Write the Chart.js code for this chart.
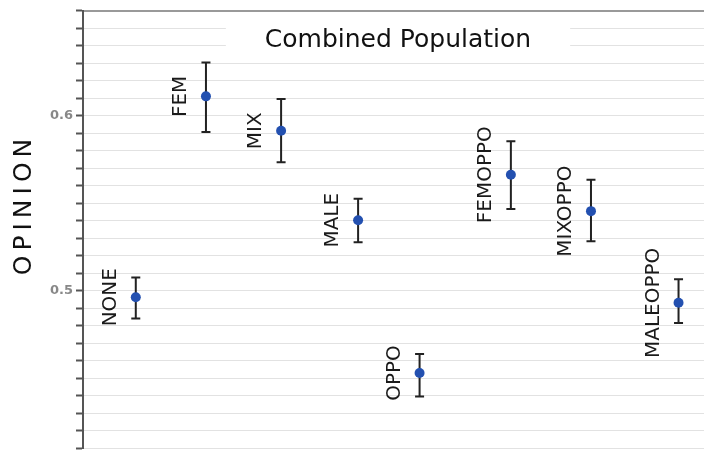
<!DOCTYPE html>
<html>
<head>
<meta charset="utf-8">
<script src="https://cdn.jsdelivr.net/npm/chart.js@4.4.1/dist/chart.umd.min.js"></script>
<style>
  html, body { margin: 0; padding: 0; background: #fff; overflow: hidden; }
  #wrap { position: relative; width: 704px; height: 459px; }
</style>
</head>
<body>
<div id="wrap"><canvas id="opinionChart"></canvas></div>
<script>
// values
const categories = ['NONE', 'FEM', 'MIX', 'MALE', 'OPPO', 'FEMOPPO', 'MIXOPPO', 'MALEOPPO'];
const xValues = [0.85, 1.98, 3.19, 4.43, 5.42, 6.89, 8.18, 9.59];
const means = [0.4963, 0.6111, 0.5914, 0.5403, 0.4530, 0.5663, 0.5455, 0.4931];
const upper = [0.5075, 0.6304, 0.6096, 0.5526, 0.4638, 0.5855, 0.5634, 0.5065];
const lower = [0.4842, 0.5907, 0.5734, 0.5277, 0.4396, 0.5467, 0.5283, 0.4816];
const tickLabels = ['0.5', '0.6'];
const chartTitle = 'Combined Population';
const yTitle = 'OPINION';

// error bars, category labels, title box and axis title
const overlay = {
    id: 'overlay',
    beforeDatasetsDraw(chart) {
        const { ctx, scales: { y } } = chart;
        const meta = chart.getDatasetMeta(0);

        // title sits inside the plot on a white rounded box
        ctx.save();
        ctx.font = '25px "DejaVu Sans"';
        const tw = ctx.measureText(chartTitle).width;
        const cx = 398;
        ctx.fillStyle = '#fff';
        ctx.beginPath();
        ctx.roundRect(cx - tw / 2 - 40, 18, tw + 80, 38, 16);
        ctx.fill();
        ctx.fillStyle = '#111';
        ctx.textAlign = 'center';
        ctx.textBaseline = 'alphabetic';
        ctx.fillText(chartTitle, cx, 47);
        ctx.restore();

        ctx.save();
        ctx.strokeStyle = '#222';
        ctx.lineWidth = 2;
        meta.data.forEach((pt, i) => {
            const yTop = y.getPixelForValue(upper[i]);
            const yBot = y.getPixelForValue(lower[i]);
            ctx.beginPath();
            ctx.moveTo(pt.x, yTop); ctx.lineTo(pt.x, yBot);
            ctx.moveTo(pt.x - 4.5, yTop); ctx.lineTo(pt.x + 4.5, yTop);
            ctx.moveTo(pt.x - 4.5, yBot); ctx.lineTo(pt.x + 4.5, yBot);
            ctx.stroke();
        });
        ctx.restore();

        ctx.save();
        ctx.fillStyle = '#1a1a1a';
        ctx.font = '20px "DejaVu Sans"';
        ctx.textAlign = 'center';
        ctx.textBaseline = 'middle';
        meta.data.forEach((pt, i) => {
            ctx.save();
            ctx.translate(pt.x - 25, pt.y);
            ctx.rotate(-Math.PI / 2);
            ctx.fillText(categories[i], 0, 0);
            ctx.restore();
        });
        ctx.restore();
    },
    afterDraw(chart) {
        const ctx = chart.ctx;
        ctx.save();
        ctx.translate(24, 207);
        ctx.rotate(-Math.PI / 2);
        ctx.font = '25px "DejaVu Sans"';
        ctx.letterSpacing = '5px';
        ctx.fillStyle = '#111';
        ctx.textAlign = 'center';
        ctx.textBaseline = 'middle';
        ctx.fillText(yTitle, 2.5, 0);
        ctx.restore();
    }
};

const ctx = document.getElementById('opinionChart').getContext('2d');
new Chart(ctx, {
    type: 'scatter',
    data: {
        datasets: [{
            data: categories.map((c, i) => ({ x: xValues[i], y: means[i] })),
            backgroundColor: '#2350b0',
            borderWidth: 0,
            pointRadius: 5,
            pointHoverRadius: 5
        }]
    },
    options: {
        responsive: true,
        maintainAspectRatio: false,
        animation: false,
        layout: { autoPadding: false, padding: { top: 10, right: 0, bottom: 0, left: 0 } },
        plugins: {
            legend: { display: false },
            title: { display: false },
            tooltip: { enabled: false }
        },
        scales: {
            x: {
                type: 'linear',
                position: 'top',
                min: 0,
                max: 10,
                ticks: { display: false },
                grid: { display: false, drawTicks: false },
                border: { display: true, color: '#999', width: 2 }
            },
            y: {
                min: 0.41,
                max: 0.66,
                afterFit(scale) { scale.width = 83; },
                ticks: {
                    stepSize: 0.01,
                    autoSkip: false,
                    padding: 3,
                    color: '#888',
                    font: { family: 'DejaVu Sans', size: 13, weight: 'bold' },
                    callback(v) {
                        const s = String(Number(v.toFixed(2)));
                        return tickLabels.includes(s) ? s : '';
                    }
                },
                grid: { color: '#e2e2e2', lineWidth: 1, tickLength: 7, tickColor: '#555', tickWidth: 2 },
                border: { color: '#555', width: 2 }
            }
        }
    },
    plugins: [overlay]
});
</script>
</body>
</html>
